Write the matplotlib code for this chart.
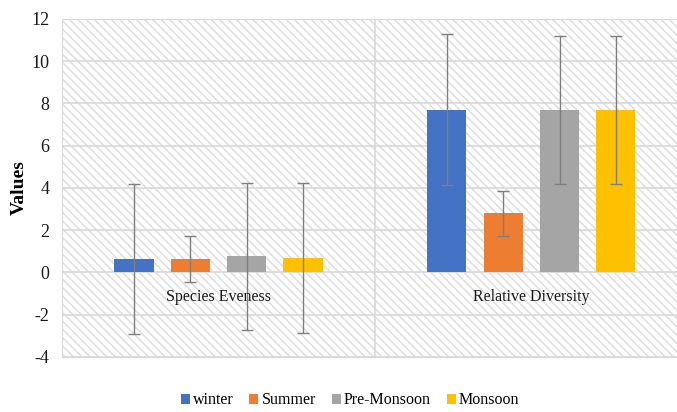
import matplotlib.pyplot as plt
import numpy as np
from matplotlib.patches import Rectangle

plt.rcParams['font.family'] = ['Liberation Serif', 'DejaVu Serif']
plt.rcParams['axes.unicode_minus'] = False

# Data
categories = ['Species Eveness', 'Relative Diversity']
seasons = ['winter', 'Summer', 'Pre-Monsoon', 'Monsoon']
colors = ['#4472C4', '#ED7D31', '#A5A5A5', '#FFC000']
values = {
    'winter':      [0.62, 7.70],
    'Summer':      [0.62, 2.79],
    'Pre-Monsoon': [0.76, 7.70],
    'Monsoon':     [0.68, 7.70],
}
errors = {
    'winter':      [3.54, 3.57],
    'Summer':      [1.09, 1.08],
    'Pre-Monsoon': [3.47, 3.50],
    'Monsoon':     [3.54, 3.50],
}
y_ticks = [-4, -2, 0, 2, 4, 6, 8, 10, 12]

fig = plt.figure(figsize=(6.77, 4.12), dpi=100)
ax = fig.add_axes([0.0916, 0.134, 0.9245, 0.82])

x = np.arange(len(categories))
slot = 0.18
width = 0.125

# hatched background
plt.rcParams['hatch.linewidth'] = 1.2
bg = Rectangle((0, 0), 1, 1, transform=ax.transAxes, facecolor='white',
               edgecolor='#e0e0e0', hatch='\\\\\\\\', linewidth=0, zorder=0)
ax.add_patch(bg)

for yv in y_ticks:
    ax.axhline(yv, color='#d9d9d9', lw=1.2, zorder=1)
ax.axvline(0.5, color='#d9d9d9', lw=1.2, zorder=1)

for i, s in enumerate(seasons):
    pos = x + (i - 1.5) * slot
    ax.bar(pos, values[s], width, color=colors[i], label=s, zorder=2)
    ax.errorbar(pos, values[s], yerr=errors[s], fmt='none', ecolor='#7f7f7f',
                elinewidth=1, capsize=4, capthick=1, zorder=3)

for i, c in enumerate(categories):
    ax.text(x[i], -1.15, c, ha='center', va='center', fontsize=11.5, color='#1a1a1a', zorder=4)

ax.set_xlim(-0.5, 1.5)
ax.set_ylim(-4, 12)
ax.set_yticks(y_ticks)
ax.set_xticks([])
ax.tick_params(axis='y', length=0, labelsize=13, pad=9, labelcolor='#1a1a1a')
for sp in ax.spines.values():
    sp.set_color('#d9d9d9')
ax.set_ylabel('Values', fontsize=14, fontweight='bold')
ax.yaxis.set_label_coords(-0.054, 0.5)

fig.legend(loc='center', bbox_to_anchor=(0.517, 0.028), ncol=4, frameon=False,
           fontsize=11.5, handlelength=0.55, handleheight=0.55, handletextpad=0.2,
           columnspacing=1.0)

fig.savefig('out.png', dpi=100)
